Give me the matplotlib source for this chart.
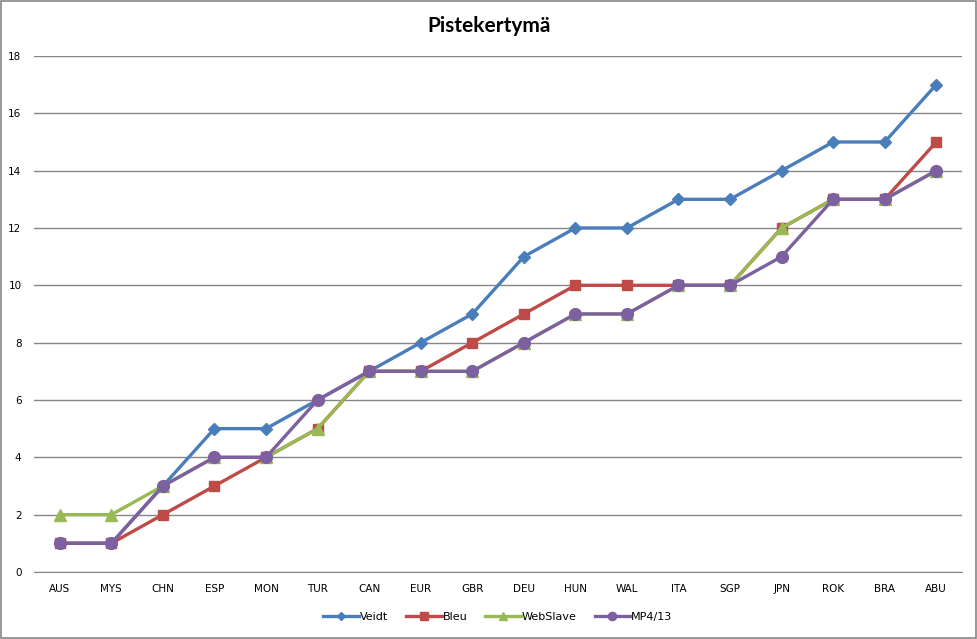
import matplotlib
matplotlib.use("Agg")
import matplotlib.pyplot as plt
from matplotlib.patches import Rectangle

races = ["AUS", "MYS", "CHN", "ESP", "MON", "TUR", "CAN", "EUR", "GBR",
         "DEU", "HUN", "WAL", "ITA", "SGP", "JPN", "ROK", "BRA", "ABU"]

veidt = [1, 1, 3, 5, 5, 6, 7, 8, 9, 11, 12, 12, 13, 13, 14, 15, 15, 17]
bleu = [1, 1, 2, 3, 4, 5, 7, 7, 8, 9, 10, 10, 10, 10, 12, 13, 13, 15]
webslave = [2, 2, 3, 4, 4, 5, 7, 7, 7, 8, 9, 9, 10, 10, 12, 13, 13, 14]
mp413 = [1, 1, 3, 4, 4, 6, 7, 7, 7, 8, 9, 9, 10, 10, 11, 13, 13, 14]

series = [
    ("Veidt", veidt, "#4A7EBB", "D", 6),
    ("Bleu", bleu, "#BE4B48", "s", 7.5),
    ("WebSlave", webslave, "#98B954", "^", 8),
    ("MP4/13", mp413, "#7D60A0", "o", 8.5),
]

fig = plt.figure(figsize=(9.78, 6.39), dpi=100)
ax = fig.add_axes([0.0348, 0.1049, 0.9489, 0.8075])

x = list(range(len(races)))
for name, vals, col, mk, ms in series:
    ax.plot(x, vals, color=col, lw=2.4, marker=mk, markersize=ms,
            markerfacecolor=col, markeredgecolor=col, label=name)

ax.set_xlim(-0.5, len(races) - 0.5)
ax.set_ylim(0, 18)
ax.set_yticks(range(0, 19, 2))
ax.set_xticks(x)
ax.set_xticklabels(races)
ax.tick_params(length=0, labelsize=7.5, colors="black")
ax.tick_params(axis="y", pad=9)
ax.tick_params(axis="x", pad=9)
ax.grid(axis="y", color="#868686", lw=1)
ax.set_axisbelow(True)
for s in ["left", "right", "top"]:
    ax.spines[s].set_visible(False)
ax.spines["bottom"].set_color("#868686")

fig.text(0.5, 0.96, "Pistekertymä", ha="center", va="center",
         fontsize=15, fontweight="bold", family="Lato")

ax.legend(loc="upper center", bbox_to_anchor=(0.5, -0.058), ncol=4,
          frameon=False, fontsize=8, handlelength=3.2, handletextpad=0.1,
          columnspacing=1.6, markerscale=0.7)

fig.patches.append(Rectangle((0.001, 0.002), 0.997, 0.996, transform=fig.transFigure,
                             fill=False, edgecolor="#868686", lw=1.2))

fig.savefig("out.png", dpi=100)
